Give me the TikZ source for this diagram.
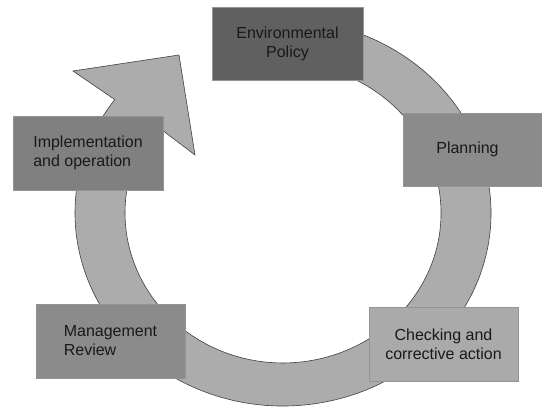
\documentclass[tikz,border=0pt]{standalone}
\usepackage{fontspec}
\setmainfont{Liberation Sans}
\definecolor{ringgray}{HTML}{ACACAC}
\definecolor{policygray}{HTML}{606060}
\definecolor{implgray}{HTML}{808080}
\definecolor{midgray}{HTML}{8B8B8B}
\definecolor{checkgray}{HTML}{AAAAAA}
\begin{document}
\begin{tikzpicture}[x=1pt,y=1pt,
    stage/.style={rectangle,draw=black!42,line width=0.3pt,inner sep=0pt,
      minimum width=150pt,minimum height=74pt,
      font=\fontsize{16}{19}\selectfont,text=black!90}]
  \useasboundingbox (0,0) rectangle (542,409);
  % the cycle arrow
  \coordinate (c) at (283,196);
  \draw[fill=ringgray,draw=black!75,line width=0.6pt]
    (c) ++(100:208pt and 193pt)
    arc[start angle=100,end angle=-216,x radius=208pt,y radius=193pt]
    -- (73,338) -- (179,354) -- (195,254) -- (155.2,284.2)
    arc[start angle=-216,end angle=100,x radius=158pt,y radius=150pt]
    -- cycle;
  % the five stages
  \node[stage,fill=policygray,minimum width=151pt,minimum height=73pt,align=center]
    (policy) at (287.5,365.5) {Environmental\\Policy};
  \node[stage,fill=midgray,minimum width=139pt,minimum height=73pt]
    (planning) at (472.5,259.5) {\hspace*{-10pt}Planning};
  \node[stage,fill=checkgray,minimum width=149pt,align=center]
    (checking) at (443.5,65) {Checking and\\corrective action};
  \node[stage,fill=midgray,minimum width=149pt,align=left]
    (review) at (110.5,68) {Management\\Review};
  \node[stage,fill=implgray,align=left]
    (implementation) at (88,256) {Implementation\\and operation};
\end{tikzpicture}
\end{document}
